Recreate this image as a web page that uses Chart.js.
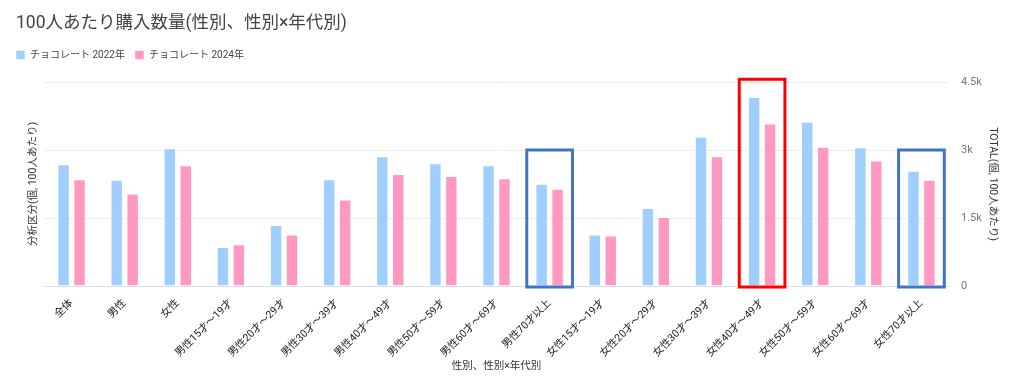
<!DOCTYPE html>
<html>
<head>
<meta charset="utf-8">
<script src="https://cdn.jsdelivr.net/npm/chart.js@4.4.1/dist/chart.umd.min.js"></script>
<style>
  html, body { margin: 0; padding: 0; background: #fff; }
  #wrap { width: 1024px; height: 391px; }
</style>
</head>
<body>
<div id="wrap"><canvas id="chart" width="1024" height="391"></canvas></div>
<script>
var categories = ['全体', '男性', '女性',
    '男性15才～19才', '男性20才～29才', '男性30才～39才', '男性40才～49才', '男性50才～59才', '男性60才～69才', '男性70才以上',
    '女性15才～19才', '女性20才～29才', '女性30才～39才', '女性40才～49才', '女性50才～59才', '女性60才～69才', '女性70才以上'];
var choco2022 = [2685, 2342, 3036, 863, 1346, 2356, 2861, 2707, 2663, 2254, 1135, 1719, 3293, 4171, 3622, 3058, 2540];
var choco2024 = [2356, 2041, 2663, 922, 1134, 1910, 2473, 2429, 2378, 2144, 1113, 1521, 2860, 3585, 3073, 2766, 2342];
var rightTicks = [0, 1500, 3000, 4500];

// highlight boxes drawn over the chart (category, top value, colour)
var highlights = [
    { cat: '男性70才以上', top: 3000, color: '#4472c4' },
    { cat: '女性40才～49才', top: 4560, color: '#ff0000' },
    { cat: '女性70才以上', top: 3000, color: '#4472c4' }
];

var FONT = "Roboto, 'Noto Sans CJK JP', sans-serif";

var boxPlugin = {
    id: 'boxes',
    afterLayout: function(chart) {
        // pull title / legend up and left a bit
        chart.titleBlock.top -= 8; chart.titleBlock.bottom -= 8;
        chart.legend.top -= 12; chart.legend.bottom -= 12;
        chart.legend.left -= 10; chart.legend.right -= 10;
    },
    afterDatasetsDraw: function(chart) {
        var x = chart.scales.x, y = chart.scales.y1, c = chart.ctx;
        var half = x.width / categories.length * 0.43;
        c.save();
        c.lineWidth = 3;
        highlights.forEach(function(h) {
            var cx = x.getPixelForValue(categories.indexOf(h.cat));
            var top = y.getPixelForValue(h.top);
            var bottom = y.getPixelForValue(0) + 1;
            c.strokeStyle = h.color;
            c.strokeRect(cx - half, top, half * 2, bottom - top);
        });
        c.restore();
    }
};

var ctx = document.getElementById('chart');
var myChart = new Chart(ctx, {
    type: 'bar',
    data: {
        labels: categories,
        datasets: [{
            label: 'チョコレート 2022年',
            data: choco2022,
            yAxisID: 'y1',
            backgroundColor: 'rgb(160,206,255)',
            borderColor: 'rgba(255,255,255,0.5)',
            borderWidth: 1
        }, {
            label: 'チョコレート 2024年',
            data: choco2024,
            yAxisID: 'y1',
            backgroundColor: 'rgb(255,153,194)',
            borderColor: 'rgba(255,255,255,0.5)',
            borderWidth: 1
        }]
    },
    options: {
        responsive: false,
        animation: false,
        categoryPercentage: 0.6,
        barPercentage: 0.78,
        layout: { padding: { left: 16, right: 0, top: 17, bottom: 0 } },
        scales: {
            x: {
                afterFit: function(s) { s.height = 105; },
                grid: { display: false },
                border: { color: '#d6e0f0', width: 1 },
                ticks: {
                    maxRotation: 45, minRotation: 45, autoSkip: false,
                    color: '#222', font: { family: FONT, size: 10.5 }
                },
                title: {
                    display: true, text: '性別、性別×年代別',
                    color: '#333', font: { family: FONT, size: 10.5 }, padding: { top: 0, bottom: 18 }
                }
            },
            y: {
                position: 'left',
                min: 0, max: 4500,
                afterFit: function(s) { s.width = 29; },
                grid: { display: false },
                border: { display: false },
                ticks: { display: false },
                title: {
                    display: true, text: '分析区分(個, 100人あたり)',
                    color: '#333', font: { family: FONT, size: 10.5 }, padding: { top: 11, bottom: 0 }
                }
            },
            y1: {
                position: 'right',
                min: 0, max: 4500,
                afterFit: function(s) { s.width = 76; },
                afterBuildTicks: function(axis) {
                    axis.ticks = rightTicks.map(function(v) { return { value: v }; });
                },
                grid: { color: '#ececec', drawTicks: false },
                border: { display: false },
                ticks: {
                    color: '#777', padding: 13, font: { family: FONT, size: 11 },
                    callback: function(v) { return v === 0 ? '0' : (v / 1000) + 'k'; }
                },
                title: {
                    display: true, text: 'TOTAL(個, 100人あたり)',
                    color: '#333', font: { family: FONT, size: 10.5 }, padding: { top: 25, bottom: 0 }
                }
            }
        },
        plugins: {
            title: {
                display: true, align: 'start',
                text: '100人あたり購入数量(性別、性別×年代別)',
                color: '#444', font: { family: FONT, size: 17.5, weight: 'normal' },
                padding: { top: 4, bottom: 10 }
            },
            legend: {
                align: 'start',
                labels: {
                    boxWidth: 9, boxHeight: 9, padding: 10,
                    color: '#444', font: { family: FONT, size: 10 }
                }
            },
            tooltip: { enabled: false }
        }
    },
    plugins: [boxPlugin]
});
</script>
</body>
</html>
